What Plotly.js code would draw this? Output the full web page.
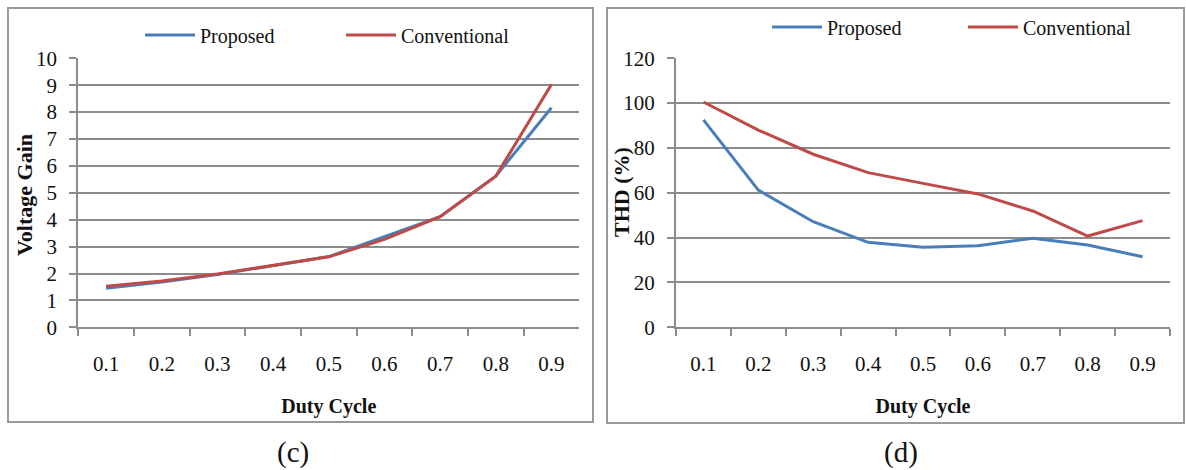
<!DOCTYPE html>
<html><head><meta charset="utf-8">
<script src="https://cdn.plot.ly/plotly-3.0.1.min.js"></script>
<style>html,body{margin:0;padding:0;background:#fff}#chart{width:1186px;height:470px}</style>
</head><body><div id="chart"></div>
<script>
const dutyCycle = ['0.1','0.2','0.3','0.4','0.5','0.6','0.7','0.8','0.9'];
const gainProposed = [1.45, 1.68, 1.96, 2.30, 2.63, 3.37, 4.11, 5.62, 8.16];
const gainConventional = [1.53, 1.72, 1.98, 2.30, 2.62, 3.27, 4.11, 5.62, 9.03];
const thdProposed = [92.5, 61.2, 47.1, 37.9, 35.7, 36.4, 39.7, 36.7, 31.5];
const thdConventional = [100.5, 88.0, 77.2, 69.0, 64.2, 59.5, 51.9, 40.7, 47.6];
const gainTicks = [0,1,2,3,4,5,6,7,8,9,10];
const thdTicks = [0,20,40,60,80,100,120];

const W = 1186, H = 470;
const BLUE = '#4a7ebb', RED = '#be4b48', GRID = '#8c8c8c';
const FONT = 'Liberation Serif, Times New Roman, serif';

const traces = [
  {x: dutyCycle, y: gainProposed, name: 'Proposed', type: 'scatter', mode: 'lines',
   line: {color: BLUE, width: 3}, xaxis: 'x', yaxis: 'y', legend: 'legend'},
  {x: dutyCycle, y: gainConventional, name: 'Conventional', type: 'scatter', mode: 'lines',
   line: {color: RED, width: 3}, xaxis: 'x', yaxis: 'y', legend: 'legend'},
  {x: dutyCycle, y: thdProposed, name: 'Proposed', type: 'scatter', mode: 'lines',
   line: {color: BLUE, width: 3}, xaxis: 'x2', yaxis: 'y2', legend: 'legend2'},
  {x: dutyCycle, y: thdConventional, name: 'Conventional', type: 'scatter', mode: 'lines',
   line: {color: RED, width: 3}, xaxis: 'x2', yaxis: 'y2', legend: 'legend2'}
];

const yTop = 1 - 58.3 / H, yBot = 1 - 327.3 / H;

function xAx(x0, x1) {
  return {
    domain: [x0 / W, x1 / W], type: 'category',
    range: [-0.5, 8.5], showgrid: false, zeroline: false,
    showline: true, linecolor: GRID, linewidth: 2,
    ticks: 'outside', tickson: 'boundaries', ticklen: 7, tickcolor: GRID, tickwidth: 2,
    ticklabelstandoff: 16,
    tickfont: {family: FONT, size: 21, color: '#111'},
    title: {text: 'Duty Cycle', font: {family: FONT, size: 20, color: '#111', weight: 'bold'}, standoff: 24},
    fixedrange: true
  };
}
function yAx(ticks) {
  return {
    domain: [yBot, yTop], range: [ticks[0], ticks[ticks.length - 1]],
    tickvals: ticks, ticktext: ticks.map(String),
    showgrid: true, gridcolor: GRID, gridwidth: 2, zeroline: false,
    showline: true, linecolor: GRID, linewidth: 2,
    ticks: 'outside', ticklen: 7, tickcolor: GRID, tickwidth: 2,
    ticklabelstandoff: 8,
    tickfont: {family: FONT, size: 21, color: '#111'},
    fixedrange: true
  };
}

const xa1 = xAx(78.3, 579.3); xa1.anchor = 'y';
const xa2 = xAx(676, 1170); xa2.anchor = 'y2';
const ya1 = yAx(gainTicks); ya1.anchor = 'x';
const ya2 = yAx(thdTicks); ya2.anchor = 'x2';

const legendBase = {
  orientation: 'h', xanchor: 'left', yanchor: 'middle',
  font: {family: FONT, size: 20, color: '#111'},
  bgcolor: 'rgba(0,0,0,0)', itemwidth: 50,
  entrywidthmode: 'pixels', tracegroupgap: 0
};

const titleFont = {family: FONT, size: 22, color: '#111', weight: 'bold'};

const layout = {
  width: W, height: H, margin: {l: 0, r: 0, t: 0, b: 0},
  paper_bgcolor: '#fff', plot_bgcolor: '#fff',
  xaxis: xa1, yaxis: ya1, xaxis2: xa2, yaxis2: ya2,
  legend: Object.assign({}, legendBase, {x: 140 / W, y: 1 - 35 / H, entrywidth: 136}),
  legend2: Object.assign({}, legendBase, {x: 767 / W, y: 1 - 27 / H, entrywidth: 131}),
  shapes: [
    {type: 'rect', xref: 'paper', yref: 'paper', x0: 8 / W, x1: 593 / W, y0: 1 - 422 / H, y1: 1 - 8 / H,
     line: {color: '#9a9a9a', width: 2}},
    {type: 'rect', xref: 'paper', yref: 'paper', x0: 607 / W, x1: 1184 / W, y0: 1 - 423 / H, y1: 1 - 8 / H,
     line: {color: '#9a9a9a', width: 2}}
  ],
  annotations: [
    {text: 'Voltage Gain', xref: 'paper', yref: 'paper', x: 24 / W, y: 1 - 195 / H, textangle: -90,
     xanchor: 'center', yanchor: 'middle', showarrow: false, font: titleFont},
    {text: 'THD (%)', xref: 'paper', yref: 'paper', x: 622 / W, y: 1 - 192 / H, textangle: -90,
     xanchor: 'center', yanchor: 'middle', showarrow: false, font: titleFont},
    {text: '(c)', xref: 'paper', yref: 'paper', x: 293 / W, y: 1 - 452 / H, showarrow: false,
     xanchor: 'center', yanchor: 'middle', font: {family: FONT, size: 29, color: '#111'}},
    {text: '(d)', xref: 'paper', yref: 'paper', x: 901 / W, y: 1 - 452 / H, showarrow: false,
     xanchor: 'center', yanchor: 'middle', font: {family: FONT, size: 29, color: '#111'}}
  ]
};

Plotly.newPlot('chart', traces, layout, {displayModeBar: false, staticPlot: true});
</script>
</body></html>
